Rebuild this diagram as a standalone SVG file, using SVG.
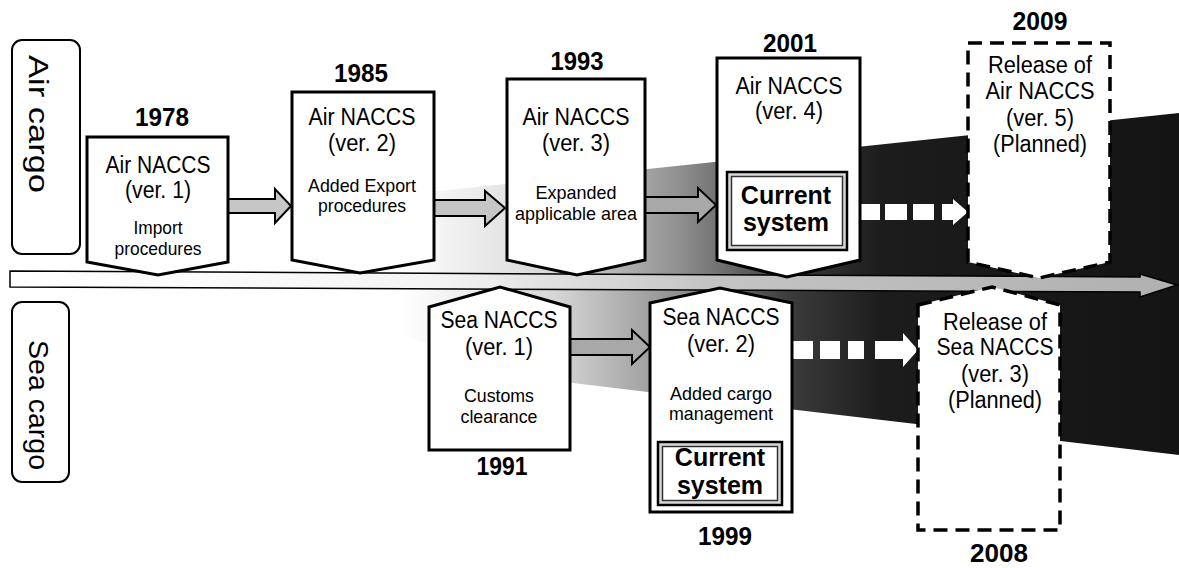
<svg xmlns="http://www.w3.org/2000/svg" width="1179" height="568" viewBox="0 0 1179 568">
<defs>
<linearGradient id="funnel" x1="400" y1="0" x2="1179" y2="0" gradientUnits="userSpaceOnUse">
<stop offset="0" stop-color="#ffffff"/>
<stop offset="0.2" stop-color="#d6d6d6"/>
<stop offset="0.36" stop-color="#8f8f8f"/>
<stop offset="0.5" stop-color="#3c3c3c"/>
<stop offset="0.62" stop-color="#1c1c1c"/>
<stop offset="1" stop-color="#141414"/>
</linearGradient>
<linearGradient id="bar" x1="10" y1="0" x2="1177" y2="0" gradientUnits="userSpaceOnUse">
<stop offset="0" stop-color="#ffffff"/>
<stop offset="0.37" stop-color="#f4f4f4"/>
<stop offset="0.6" stop-color="#c4c4c4"/>
<stop offset="1" stop-color="#b0b0b0"/>
</linearGradient>
<style>
.node{fill:#fff;stroke:#000;stroke-width:3;stroke-linejoin:miter}
.planned{fill:#fff;stroke:#000;stroke-width:3.5;stroke-dasharray:14 8}
.lbl{fill:#fff;stroke:#000;stroke-width:2}
.t{font-family:"Liberation Sans",Arial,sans-serif;text-anchor:middle;fill:#000}
.title{font-size:23.5px}
.sub{font-size:19px}
.year{font-size:25px;font-weight:bold}
.cur{font-size:25px;font-weight:bold}
.side{font-size:27px}
.blk{stroke:#000;stroke-width:2;stroke-linejoin:miter}
.dot{fill:#fff}
.cbo{fill:#d8d8d8;stroke:#000;stroke-width:2.5}
.cbi{fill:#fff;stroke:#333;stroke-width:1.5}
</style>
</defs>

<g id="background">
<polygon points="400,195 1179,113 1179,455 780,408 573,383 400,335" fill="url(#funnel)"/>
</g>

<g id="timeline">
<polygon points="10,271 1140,277 1140,274 1177,285 1140,297 1140,292 10,287" fill="url(#bar)" stroke="#000" stroke-width="1.5"/>
</g>

<g id="side-labels">
<g id="air-cargo">
<rect class="lbl" x="12" y="40" width="68" height="214" rx="10"/>
<text class="t side" transform="translate(29,124) rotate(90)" textLength="138" lengthAdjust="spacingAndGlyphs">Air cargo</text>
</g>
<g id="sea-cargo">
<rect class="lbl" x="12" y="302" width="57" height="180" rx="10"/>
<text class="t side" transform="translate(29,405) rotate(90)" textLength="130" lengthAdjust="spacingAndGlyphs">Sea cargo</text>
</g>
</g>

<g id="connectors">
<polygon class="blk" fill="#c6c6c6" points="228,199 275,199 275,189 291,206 275,223 275,213 228,213"/>
<polygon class="blk" fill="#c6c6c6" points="434,200 485,200 485,191 505,208 485,226 485,216 434,216"/>
<polygon class="blk" fill="#a8a8a8" points="645,197 698,197 698,188 716,205 698,222 698,213 645,213"/>
<polygon class="blk" fill="#a8a8a8" points="570,339 632,339 632,330 650,347 632,364 632,355 570,355"/>
<g id="air-planned-arrow">
<rect class="dot" x="858" y="204" width="22" height="16"/>
<rect class="dot" x="885" y="204" width="22" height="16"/>
<rect class="dot" x="913" y="204" width="21" height="16"/>
<polygon class="dot" points="942,204 953,204 953,199 968,212 953,225 953,220 942,220"/>
</g>
<g id="sea-planned-arrow">
<rect class="dot" x="793" y="341" width="20" height="18"/>
<rect class="dot" x="820" y="341" width="20" height="18"/>
<rect class="dot" x="848" y="341" width="16" height="18"/>
<polygon class="dot" points="875,341 903,341 903,333 918,350 903,367 903,359 875,359"/>
</g>
</g>

<g id="air-1978">
<text class="t year" x="162" y="126" textLength="54" lengthAdjust="spacingAndGlyphs">1978</text>
<path class="node" d="M87,137 H228 V262 L158,275 L87,262 Z"/>
<text class="t title" x="158" y="173" textLength="105" lengthAdjust="spacingAndGlyphs">Air NACCS</text>
<text class="t title" x="158" y="198" textLength="66" lengthAdjust="spacingAndGlyphs">(ver. 1)</text>
<text class="t sub" x="158" y="234" textLength="49" lengthAdjust="spacingAndGlyphs">Import</text>
<text class="t sub" x="158" y="255" textLength="87" lengthAdjust="spacingAndGlyphs">procedures</text>
</g>

<g id="air-1985">
<text class="t year" x="361" y="82" textLength="54" lengthAdjust="spacingAndGlyphs">1985</text>
<path class="node" d="M292,92 H434 V260 L360,273 L292,260 Z"/>
<text class="t title" x="362" y="125" textLength="107" lengthAdjust="spacingAndGlyphs">Air NACCS</text>
<text class="t title" x="362" y="151" textLength="68" lengthAdjust="spacingAndGlyphs">(ver. 2)</text>
<text class="t sub" x="362" y="192" textLength="108" lengthAdjust="spacingAndGlyphs">Added Export</text>
<text class="t sub" x="362" y="212" textLength="88" lengthAdjust="spacingAndGlyphs">procedures</text>
</g>

<g id="air-1993">
<text class="t year" x="577" y="70" textLength="53" lengthAdjust="spacingAndGlyphs">1993</text>
<path class="node" d="M507,79 H645 V260 L577,275 L507,260 Z"/>
<text class="t title" x="576" y="125" textLength="107" lengthAdjust="spacingAndGlyphs">Air NACCS</text>
<text class="t title" x="576" y="151" textLength="68" lengthAdjust="spacingAndGlyphs">(ver. 3)</text>
<text class="t sub" x="576" y="199" textLength="81" lengthAdjust="spacingAndGlyphs">Expanded</text>
<text class="t sub" x="576" y="220" textLength="122" lengthAdjust="spacingAndGlyphs">applicable area</text>
</g>

<g id="air-2001">
<text class="t year" x="790" y="52" textLength="54" lengthAdjust="spacingAndGlyphs">2001</text>
<path class="node" d="M717,58 H860 V260 L787,277 L717,260 Z"/>
<text class="t title" x="789" y="94" textLength="107" lengthAdjust="spacingAndGlyphs">Air NACCS</text>
<text class="t title" x="789" y="119" textLength="68" lengthAdjust="spacingAndGlyphs">(ver. 4)</text>
<rect class="cbo" x="727" y="172" width="120" height="78"/>
<rect class="cbi" x="731.5" y="176.5" width="111" height="69"/>
<text class="t cur" x="786" y="204">Current</text>
<text class="t cur" x="786" y="231">system</text>
</g>

<g id="air-2009">
<text class="t year" x="1040" y="30" textLength="55" lengthAdjust="spacingAndGlyphs">2009</text>
<path class="planned" d="M968,43 H1110 V262 L1039,278 L968,262 Z"/>
<text class="t title" x="1040" y="73" textLength="104" lengthAdjust="spacingAndGlyphs">Release of</text>
<text class="t title" x="1040" y="99" textLength="109" lengthAdjust="spacingAndGlyphs">Air NACCS</text>
<text class="t title" x="1040" y="126" textLength="68" lengthAdjust="spacingAndGlyphs">(ver. 5)</text>
<text class="t title" x="1040" y="152" textLength="94" lengthAdjust="spacingAndGlyphs">(Planned)</text>
</g>

<g id="sea-1991">
<path class="node" d="M429,307 L500,287 L570,307 V450 H429 Z"/>
<text class="t title" x="499" y="328" textLength="117" lengthAdjust="spacingAndGlyphs">Sea NACCS</text>
<text class="t title" x="499" y="355" textLength="68" lengthAdjust="spacingAndGlyphs">(ver. 1)</text>
<text class="t sub" x="499" y="402" textLength="70" lengthAdjust="spacingAndGlyphs">Customs</text>
<text class="t sub" x="499" y="423" textLength="77" lengthAdjust="spacingAndGlyphs">clearance</text>
<text class="t year" x="502" y="475" textLength="51" lengthAdjust="spacingAndGlyphs">1991</text>
</g>

<g id="sea-1999">
<path class="node" d="M650,303 L720,288 L792,303 V512 H650 Z"/>
<text class="t title" x="721" y="325" textLength="117" lengthAdjust="spacingAndGlyphs">Sea NACCS</text>
<text class="t title" x="721" y="352" textLength="68" lengthAdjust="spacingAndGlyphs">(ver. 2)</text>
<text class="t sub" x="721" y="400" textLength="102" lengthAdjust="spacingAndGlyphs">Added cargo</text>
<text class="t sub" x="721" y="420" textLength="104" lengthAdjust="spacingAndGlyphs">management</text>
<rect class="cbo" x="658" y="442" width="124" height="63"/>
<rect class="cbi" x="662.5" y="446.5" width="115" height="54"/>
<text class="t cur" x="720" y="466">Current</text>
<text class="t cur" x="720" y="494">system</text>
<text class="t year" x="725" y="545" textLength="54" lengthAdjust="spacingAndGlyphs">1999</text>
</g>

<g id="sea-2008">
<path class="planned" d="M918,305 L992,287 L1060,305 V530 H918 Z"/>
<text class="t title" x="995" y="330" textLength="104" lengthAdjust="spacingAndGlyphs">Release of</text>
<text class="t title" x="995" y="355" textLength="117" lengthAdjust="spacingAndGlyphs">Sea NACCS</text>
<text class="t title" x="995" y="382" textLength="68" lengthAdjust="spacingAndGlyphs">(ver. 3)</text>
<text class="t title" x="995" y="408" textLength="94" lengthAdjust="spacingAndGlyphs">(Planned)</text>
<text class="t year" x="999" y="562" textLength="58" lengthAdjust="spacingAndGlyphs">2008</text>
</g>
</svg>
